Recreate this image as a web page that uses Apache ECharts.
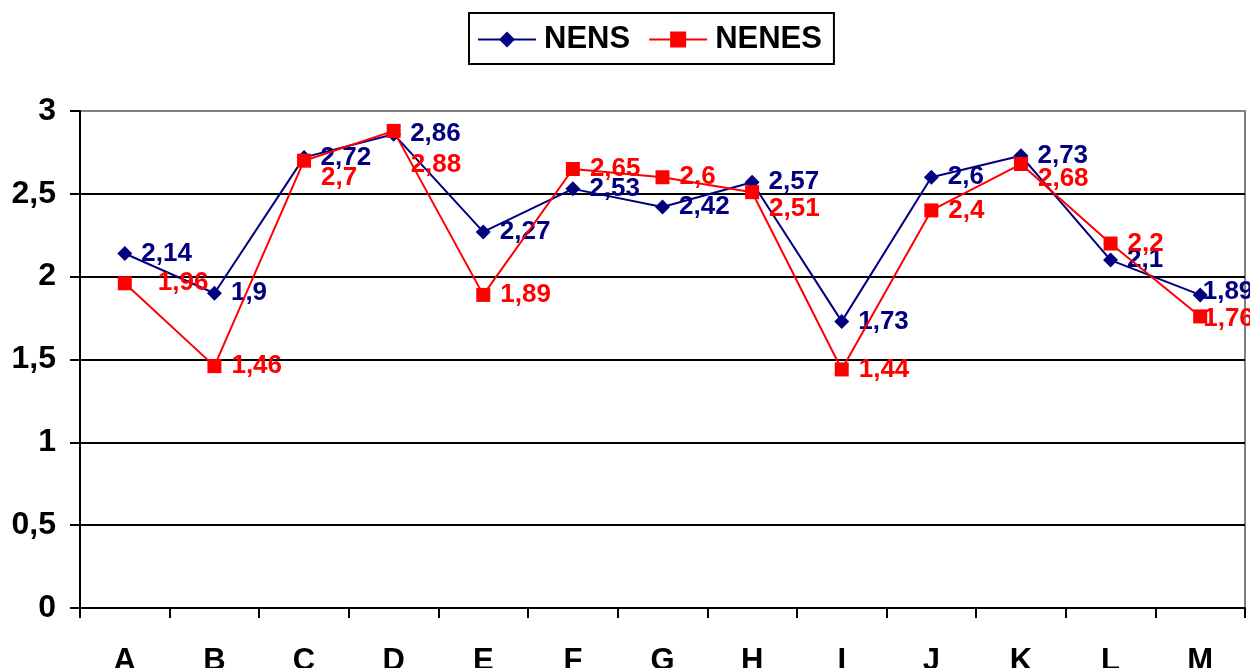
<!DOCTYPE html>
<html>
<head>
<meta charset="utf-8">
<title>NENS / NENES</title>
<script src="https://cdn.jsdelivr.net/npm/echarts@6/dist/echarts.min.js"></script>
<style>
  html, body { margin: 0; padding: 0; background: #fff; }
  #chart { width: 1250px; height: 668px; }
</style>
</head>
<body>
<div id="chart"></div>
<script>
// Categories and the two series
const categories = ['A', 'B', 'C', 'D', 'E', 'F', 'G', 'H', 'I', 'J', 'K', 'L', 'M'];
const nens  = [2.14, 1.9, 2.72, 2.86, 2.27, 2.53, 2.42, 2.57, 1.73, 2.6, 2.73, 2.1, 1.89];
const nenes = [1.96, 1.46, 2.7, 2.88, 1.89, 2.65, 2.6, 2.51, 1.44, 2.4, 2.68, 2.2, 1.76];

// Per-point nudges for labels that would otherwise collide or run off the edge
const nensLabelShift  = { 12: [-14, -3] };
const nenesLabelShift = { 0: [16, 0], 2: [0, 17], 3: [0, 34], 7: [0, 17], 10: [0, 15], 12: [-14, 2] };

const comma = v => String(v).replace('.', ',');
const FONT = 'Liberation Sans, Arial, sans-serif';

function withShifts(values, shifts) {
  return values.map((v, i) => shifts[i] ? { value: v, label: { offset: shifts[i] } } : v);
}

const chart = echarts.init(document.getElementById('chart'), null, { renderer: 'canvas' });

chart.setOption({
  animation: false,
  backgroundColor: '#ffffff',
  textStyle: { fontFamily: FONT },
  legend: {
    top: 13,
    left: 469,
    padding: [11, 12, 9, 8],
    borderColor: '#000',
    borderWidth: 2,
    itemWidth: 58,
    itemHeight: 20,
    itemGap: 18,
    textStyle: { fontFamily: FONT, fontWeight: 'bold', fontSize: 31, color: '#000', padding: [0, 0, 0, 3] },
    data: ['NENS', 'NENES']
  },
  grid: {
    left: 80,
    right: 5,
    top: 111,
    bottom: 60,
    outerBoundsMode: 'none',
    containLabel: false,
    show: true,
    borderColor: '#808080',
    borderWidth: 2
  },
  xAxis: {
    type: 'category',
    data: categories,
    boundaryGap: true,
    axisLine: { lineStyle: { color: '#000', width: 2 } },
    axisTick: { show: true, interval: 0, length: 10, lineStyle: { color: '#000', width: 2 } },
    axisLabel: {
      interval: 0,
      margin: 38,
      fontFamily: FONT,
      fontWeight: 'bold',
      fontSize: 31,
      color: '#000'
    },
    splitLine: { show: false }
  },
  yAxis: {
    type: 'value',
    min: 0,
    max: 3,
    interval: 0.5,
    axisLine: { show: true, lineStyle: { color: '#000', width: 2 } },
    axisTick: { show: true, length: 10, lineStyle: { color: '#000', width: 2 } },
    axisLabel: {
      margin: 24,
      fontFamily: FONT,
      fontWeight: 'bold',
      fontSize: 32,
      color: '#000',
      formatter: comma
    },
    splitLine: {
      show: true,
      lineStyle: { color: ['#000', '#000', '#000', '#000', '#000', '#000', '#808080'], width: 2 }
    }
  },
  series: [
    {
      name: 'NENS',
      type: 'line',
      data: withShifts(nens, nensLabelShift),
      symbol: 'diamond',
      symbolSize: 15,
      lineStyle: { color: '#000080', width: 2 },
      itemStyle: { color: '#000080' },
      label: {
        show: true,
        position: 'right',
        distance: 9,
        fontFamily: FONT,
        fontWeight: 'bold',
        fontSize: 26,
        color: '#000080',
        formatter: p => comma(p.value)
      },
      z: 2
    },
    {
      name: 'NENES',
      type: 'line',
      data: withShifts(nenes, nenesLabelShift),
      symbol: 'rect',
      symbolSize: 14,
      lineStyle: { color: '#ff0000', width: 2 },
      itemStyle: { color: '#ff0000' },
      label: {
        show: true,
        position: 'right',
        distance: 10,
        fontFamily: FONT,
        fontWeight: 'bold',
        fontSize: 26,
        color: '#ff0000',
        formatter: p => comma(p.value)
      },
      z: 3
    }
  ]
});
</script>
</body>
</html>
